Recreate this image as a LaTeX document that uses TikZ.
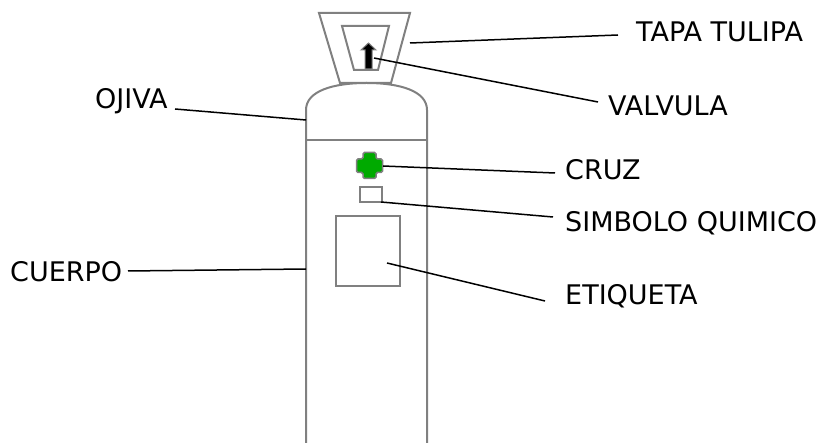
\documentclass[tikz,border=0pt]{standalone}
\usepackage{fontspec}
\setmainfont{DejaVu Sans}
\definecolor{cruzgreen}{RGB}{0,170,0}
\tikzset{
  part/.style={line width=2, color=gray},
  lead/.style={line width=1.5, black},
  lbl/.style={anchor=base west, inner sep=0, font=\fontsize{27pt}{27pt}\selectfont}
}
\begin{document}
\begin{tikzpicture}[x=1pt,y=-1pt]
\useasboundingbox (0,0) rectangle (827,443);
% tapa tulipa, outer and inner frame
\draw [part] (319,13) -- (410,13) -- (391,83) -- (340,83) -- cycle;
\draw [part] (342,26) -- (389,26) -- (378,70) -- (354,70) -- cycle;
% valvula arrow
\draw [line width=1, gray, fill=black] (365,69) -- (365,50) -- (361,50) -- (368.5,43) -- (376,50) -- (372,50) -- (372,69) -- cycle;
% ojiva and cuerpo
\draw [part] (306,443) -- (306,110) .. controls (306,91) and (333,83) .. (366.5,83)
   .. controls (400,83) and (427,91) .. (427,110) -- (427,443);
\draw [part] (306,140) -- (427,140);
% cruz
\draw [line width=1.5, gray, fill=cruzgreen, rounded corners=1.5]
   (363,152.5) -- (376,152.5) -- (376,159) -- (382.5,159) -- (382.5,172.5) -- (376,172.5)
   -- (376,178.5) -- (363,178.5) -- (363,172.5) -- (356.5,172.5) -- (356.5,159) -- (363,159) -- cycle;
% simbolo quimico and etiqueta
\draw [part] (359.5,187) rectangle (381.5,202);
\draw [part] (336,216) rectangle (400,286.5);

% labels
\node [lbl] (tapa) at (636,42) {TAPA TULIPA};
\node [lbl] (valvula) at (608,116) {VALVULA};
\node [lbl] (ojiva) at (95,109) {OJIVA};
\node [lbl] (cuerpo) at (10,281.5) {CUERPO};
\node [lbl] (cruz) at (565,180) {CRUZ};
\node [lbl] (simbolo) at (565,231.5) {SIMBOLO QUIMICO};
\node [lbl] (etiqueta) at (565,305) {ETIQUETA};

% leader lines
\coordinate (tapa-a) at (410,43);    \coordinate (tapa-b) at (618,35);
\coordinate (valvula-a) at (374,58); \coordinate (valvula-b) at (598,102);
\coordinate (ojiva-a) at (306,120);  \coordinate (ojiva-b) at (175,109);
\coordinate (cuerpo-a) at (306,269); \coordinate (cuerpo-b) at (128,271);
\coordinate (cruz-a) at (383,166);   \coordinate (cruz-b) at (555,173);
\coordinate (simbolo-a) at (381,202); \coordinate (simbolo-b) at (553,217);
\coordinate (etiqueta-a) at (387,263); \coordinate (etiqueta-b) at (545,301);
\foreach \n in {tapa,valvula,ojiva,cuerpo,cruz,simbolo,etiqueta}
  \draw [lead] (\n-a) -- (\n-b);
\end{tikzpicture}
\end{document}
